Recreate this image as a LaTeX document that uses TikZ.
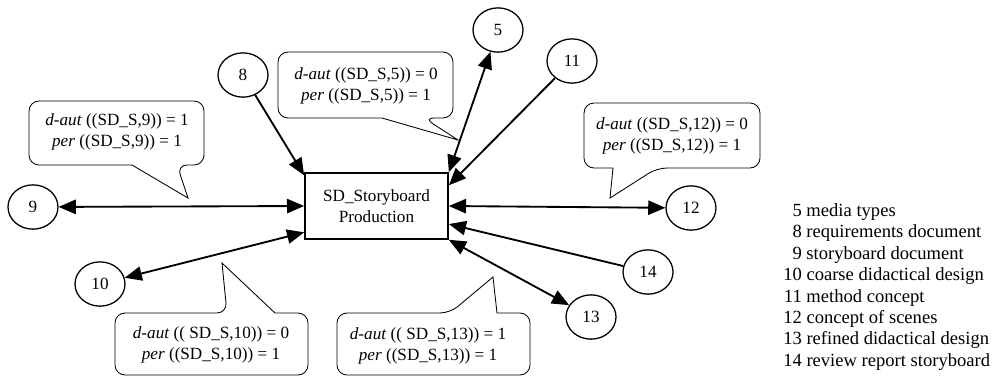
\documentclass[tikz,border=0pt]{standalone}
\usepackage{fontspec}
\setmainfont{Liberation Serif}
\usetikzlibrary{shapes,arrows.meta}
\tikzstyle{line} = [draw, line width=1.3pt, -{Triangle[length=12pt,width=10pt]}]
\tikzstyle{dline} = [draw, line width=1.3pt, {Triangle[length=12pt,width=10pt]}-{Triangle[length=12pt,width=10pt]}]
\tikzstyle{bubble} = [draw, line width=0.6pt]
\tikzstyle{doc} = [draw, ellipse, line width=0.9pt, minimum width=35pt, minimum height=31pt, inner sep=0pt]
\tikzstyle{note} = [align=center, inner sep=0pt]
\begin{document}
\begin{tikzpicture}[x=0.7pt, y=-0.7pt, every node/.style={font=\fontsize{12pt}{15pt}\selectfont}]
    \useasboundingbox (0,0) rectangle (995,376);
    % process
    \node[draw, line width=1.3pt, minimum width=100pt, minimum height=46pt, align=center] (sd) at (376.5,206) {SD\_Storyboard\\Production};
    % documents
    \node[doc] (n5) at (498,30) {5};
    \node[doc] (n8) at (243,75) {8};
    \node[doc] (n9) at (33,207) {9};
    \node[doc] (n10) at (100,284) {10};
    \node[doc] (n11) at (572,61) {11};
    \node[doc] (n12) at (691,208) {12};
    \node[doc] (n13) at (591,317) {13};
    \node[doc] (n14) at (648,272) {14};
    % flows
    \path [line] (n8) -- (sd.157);
    \path [dline] (n9) -- (sd.west);
    \path [dline] (n10) -- (sd.200);
    \path [dline] (n5) -- (sd.north east);
    \path [line] (n11) -- (sd.16);
    \path [dline] (sd.east) -- (n12);
    \path [line] (n14) -- (sd.-14);
    \path [dline] (n13) -- (sd.south east);
    % callouts
    \node[note] (c9) at (117,132) {\textit{d-aut} ((SD\_S,9)) = 1\\\textit{per} ((SD\_S,9)) = 1};
    \draw [bubble] (132,165) [rounded corners=7pt] -- (29,165) -- (29,101) -- (204,101) -- (204,165) -- (177,165) [sharp corners] -- (188,198) -- (132,165);
    \node[note] (c5) at (366,86) {\textit{d-aut} ((SD\_S,5)) = 0\\\textit{per} ((SD\_S,5)) = 1};
    \draw [bubble] (382,118) [rounded corners=7pt] -- (278,118) -- (278,52) -- (453,52) -- (453,118) -- (424,118) [sharp corners] -- (458,140) -- (382,118);
    \node[note] (c12) at (672,136) {\textit{d-aut} ((SD\_S,12)) = 0\\\textit{per} ((SD\_S,12)) = 1};
    \draw [bubble] (613,168) [rounded corners=7pt] -- (584,168) -- (584,103) -- (760,103) -- (760,168) -- (657,168) [sharp corners] -- (610,198) -- (613,168);
    \node[note] (c10) at (211,345) {\textit{d-aut} (( SD\_S,10)) = 0\\\textit{per} ((SD\_S,10)) = 1};
    \draw [bubble] (275,313) [rounded corners=7pt] -- (308,313) -- (308,375) -- (115,375) -- (115,313) -- (227,313) [sharp corners] -- (222,263) -- (275,313);
    \node[note] (c13) at (428,346) {\textit{d-aut} (( SD\_S,13)) = 1\\\textit{per} ((SD\_S,13)) = 1};
    \draw [bubble] (497,313) [rounded corners=7pt] -- (530,313) -- (530,375) -- (337,375) -- (337,313) -- (450,313) [sharp corners] -- (493,277) -- (497,313);
    % legend
    \node[anchor=west, inner sep=0pt, font=\fontsize{13pt}{15pt}\selectfont] (legend) at (783,287) {\begin{tabular}{@{}r@{ }l@{}}
        5 & media types\\
        8 & requirements document\\
        9 & storyboard document\\
        10 & coarse didactical design\\
        11 & method concept\\
        12 & concept of scenes\\
        13 & refined didactical design\\
        14 & review report storyboard
    \end{tabular}};
\end{tikzpicture}
\end{document}
